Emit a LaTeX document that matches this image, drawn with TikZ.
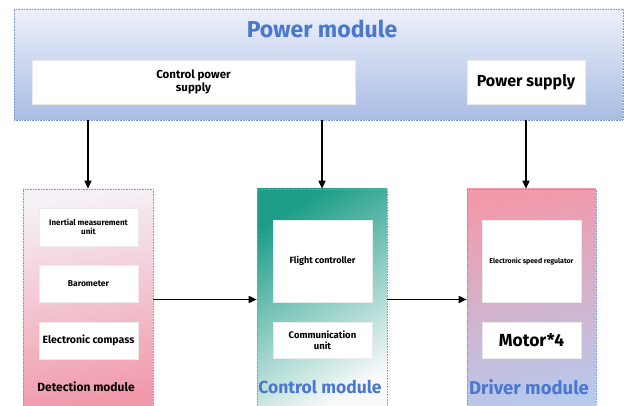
\documentclass[tikz,border=0pt]{standalone}
\usepackage{fontspec}
\setmainfont{Fira Sans}
\usetikzlibrary{positioning,arrows.meta}

\definecolor{titleblue}{HTML}{4A78CF}
\definecolor{dotblue}{HTML}{7A9AD8}
\definecolor{pmtop}{HTML}{EEF0FB}
\definecolor{pmbottom}{HTML}{A9BCE3}
\definecolor{detlight}{HTML}{F5F1F7}
\definecolor{detpink}{HTML}{F099AB}
\definecolor{ctrlteal}{HTML}{1E9E88}
\definecolor{ctrllight}{HTML}{F7F9FA}
\definecolor{drvpink}{HTML}{F29AAB}
\definecolor{drvblue}{HTML}{B7C9EC}

\begin{document}
\begin{tikzpicture}[x=1pt,y=1pt,>={Triangle[length=8pt,width=7pt]},
    module node/.style={draw=dotblue, densely dotted, line width=0.6pt, minimum width=130pt, minimum height=221pt, inner sep=0pt},
    unit node/.style={fill=white, draw=black!8, minimum width=99pt, align=center, inner sep=2pt},
    arrow/.style={->, line width=1.6pt}]

    \useasboundingbox (0,0) rectangle (632,405);

    % power module on top
    \node[draw=dotblue, densely dotted, line width=0.6pt, top color=pmtop, bottom color=pmbottom, minimum width=609pt, minimum height=111pt] (pm) at (318.5,340.5) {};
    \node[font=\fontsize{23}{27}\selectfont\bfseries, text=titleblue] (pmt) at (322,376) {Power module};
    \node[unit node, minimum width=323pt, minimum height=44pt, font=\fontsize{11.5}{13.5}\selectfont\bfseries] (cps) at (193.5,323) {Control power\\supply};
    \node[unit node, minimum width=118pt, minimum height=44pt, font=\fontsize{16}{18}\selectfont\bfseries] (ps) at (526,323) {Power supply};

    % the three lower modules
    \node[module node, top color=detlight, bottom color=detpink, shading angle=10] (det) at (88,105.5) {};
    \node[module node, top color=ctrlteal, bottom color=ctrllight, shading angle=32] (ctrl) at (322,105.5) {};
    \node[module node, minimum width=129pt, top color=drvpink, bottom color=drvblue, shading angle=10] (drv) at (531.5,105.5) {};

    % detection units
    \node[unit node, minimum height=38pt, font=\fontsize{8}{9.5}\selectfont\bfseries] (imu) at (88.5,178) {Inertial measurement\\unit};
    \node[unit node, minimum height=37pt, font=\fontsize{8.5}{10}\selectfont\bfseries, node distance=56.5pt] (baro) [below of = imu] {Barometer};
    \node[unit node, minimum height=37pt, font=\fontsize{10.5}{12}\selectfont\bfseries, node distance=57pt] (cmp) [below of = baro] {Electronic compass};
    \node[font=\fontsize{12}{14}\selectfont\bfseries] (dett) at (86,18) {Detection module};

    % control units
    \node[unit node, minimum height=82pt, font=\fontsize{9}{11}\selectfont\bfseries] (fc) at (322.5,144) {Flight controller};
    \node[unit node, minimum height=36pt, font=\fontsize{9.5}{11.5}\selectfont\bfseries, node distance=79pt] (cu) [below of = fc] {Communication\\unit};
    \node[font=\fontsize{17.5}{20}\selectfont\bfseries, text=titleblue] (ctrlt) at (320,18) {Control module};

    % driver units
    \node[unit node, minimum height=82pt, font=\fontsize{7}{8}\selectfont\bfseries] (esc) at (531.5,144) {Electronic speed regulator};
    \node[unit node, minimum height=36pt, font=\fontsize{17.5}{20}\selectfont\bfseries, node distance=79pt] (mot) [below of = esc] {Motor*4};
    \node[font=\fontsize{18.5}{21}\selectfont\bfseries, text=titleblue] (drvt) at (529,18) {Driver module};

    % connections
    \draw[arrow] (pm.south -| det.north) -- (det.north);
    \draw[arrow] (pm.south -| ctrl.north) -- (ctrl.north);
    \draw[arrow] (pm.south -| ps) -- (ps |- drv.north);
    \draw[arrow] (det) -- (ctrl);
    \draw[arrow] (ctrl) -- (drv);
\end{tikzpicture}
\end{document}
